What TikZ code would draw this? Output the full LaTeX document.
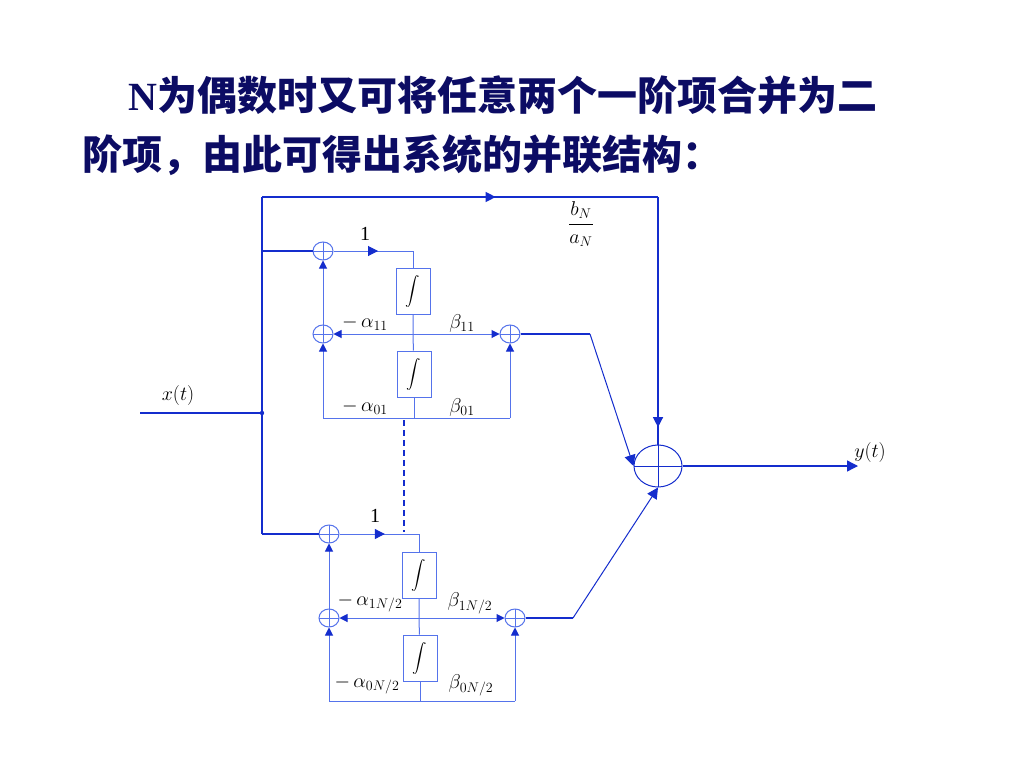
\RequirePackage{fix-cm}
\documentclass[tikz,border=0pt]{standalone}
\usepackage{amsmath}
\usepackage{fontspec}
\setmainfont{Liberation Serif}
\newfontfamily\cjk{Noto Sans CJK SC}
\usetikzlibrary{arrows.meta,shapes.geometric,decorations.markings}
\definecolor{mainblue}{RGB}{20,45,205}
\definecolor{loopblue}{RGB}{85,115,235}
\definecolor{titleblue}{RGB}{12,12,100}
\tikzset{
  mainline/.style={draw=mainblue, line width=1.3pt},
  loopline/.style={draw=loopblue, line width=1pt},
  sumnode/.style={draw=loopblue, line width=1pt, ellipse, minimum width=20pt, minimum height=18pt, inner sep=0pt,
    path picture={\draw[loopblue, line width=1pt] (path picture bounding box.north) -- (path picture bounding box.south)
      (path picture bounding box.west) -- (path picture bounding box.east);}},
  bigsum/.style={draw=mainblue, line width=1pt, ellipse, minimum width=48pt, minimum height=42pt, inner sep=0pt,
    path picture={\draw[mainblue, line width=1pt] (path picture bounding box.north) -- (path picture bounding box.south)
      (path picture bounding box.west) -- (path picture bounding box.east);}},
  intbox/.style={draw=loopblue, line width=1pt, minimum width=34pt, minimum height=46pt, inner sep=0pt, font=\fontsize{15}{17}\selectfont},
  lab/.style={font=\fontsize{20}{22}\selectfont, text=black, inner sep=0pt},
  titletext/.style={anchor=west, inner sep=0pt, text=titleblue, font=\fontsize{40}{44}\selectfont\bfseries},
  tip/.style={-{Triangle[length=8pt,width=8pt,color=mainblue]}},
  bigtip/.style={-{Triangle[length=11pt,width=11pt,color=mainblue]}},
  midtip/.style={postaction={decorate}, decoration={markings, mark=at position #1 with {\arrow{Triangle[length=10pt,width=10pt,color=mainblue]}}}},
}

\begin{document}
\begin{tikzpicture}[x=1pt,y=-1pt]
\useasboundingbox (0,0) rectangle (1024,768);
\fill[white] (0,0) rectangle (1024,768);

% title
\node[titletext] (t1) at (128,95) {N{\cjk 为偶数时又可将任意两个一阶项合并为二}};
\node[titletext] (t2) at (82,155) {\cjk 阶项，由此可得出系统的并联结构：};

% main path
\coordinate (in) at (140,413);
\coordinate (br) at (262,413);
\coordinate (tl) at (262,197);
\coordinate (tr) at (658,197);
\coordinate (ua) at (262,251);
\coordinate (la) at (262,534);
\coordinate (out) at (858,466);
\node[bigsum] (big) at (658,466) {};

% upper second order section
\node[sumnode] (u1) at (323,251) {};
\node[sumnode] (u2) at (323,334) {};
\node[sumnode] (u3) at (510,334) {};
\node[intbox] (ui1) at (413,291) {$\displaystyle\int$};
\node[intbox] (ui2) at (414,374) {$\displaystyle\int$};
\coordinate (ut) at (413,251);
\coordinate (um) at (413,334);
\coordinate (ub) at (414,418);
\coordinate (ubl) at (323,418);
\coordinate (ubr) at (510,418);
\coordinate (uo) at (590,334);

% lower second order section
\node[sumnode] (l1) at (329,534) {};
\node[sumnode] (l2) at (329,618) {};
\node[sumnode] (l3) at (515,618) {};
\node[intbox] (li1) at (419,575) {$\displaystyle\int$};
\node[intbox] (li2) at (420,658) {$\displaystyle\int$};
\coordinate (lt) at (419,534);
\coordinate (lm) at (419,618);
\coordinate (lb) at (420,701);
\coordinate (lbl) at (329,701);
\coordinate (lbr) at (515,701);
\coordinate (lo) at (573,618);

\coordinate (d1) at (404,420);
\coordinate (d2) at (404,532);

% labels
\node[lab] (x) at (178,395) {$x(t)$};
\node[lab] (y) at (870,452) {$y(t)$};
\node[lab] (k) at (581,224) {$\displaystyle\frac{b_N}{a_N}$};
\node[lab] (one1) at (365,234) {1};
\node[lab] (one2) at (375,516) {1};
\node[lab] (a11) at (365,323) {$-\,\alpha_{11}$};
\node[lab] (b11) at (462,323) {$\beta_{11}$};
\node[lab] (a01) at (365,407) {$-\,\alpha_{01}$};
\node[lab] (b01) at (462,407) {$\beta_{01}$};
\node[lab] (a1n) at (370,603) {$-\,\alpha_{1N/2}$};
\node[lab] (b1n) at (470,603) {$\beta_{1N/2}$};
\node[lab] (a0n) at (367,685) {$-\,\alpha_{0N/2}$};
\node[lab] (b0n) at (471,685) {$\beta_{0N/2}$};

% main connectors
\draw[mainline] (in) -- (br);
\fill[mainblue] (br) circle (2.2pt);
\draw[mainline] (la) -- (tl);
\draw[mainline, midtip=0.59] (tl) -- (tr);
\draw[mainline, midtip=0.93] (tr) -- (big.north);
\draw[mainline, bigtip] (big.east) -- (out);
\draw[mainline] (ua) -- (u1);
\draw[mainline] (la) -- (l1);
\draw[mainline, dashed, dash pattern=on 6pt off 4pt] (d1) -- (d2);

% upper loops
\draw[loopline, midtip=0.56] (u1) -- (ut);
\draw[loopline] (ut) -- (ui1);
\draw[loopline] (ui1) -- (um) -- (ui2);
\draw[loopline] (ui2) -- (ub);
\draw[loopline] (ubl) -- (ubr);
\draw[loopline, tip] (ubl) -- (u2);
\draw[loopline, tip] (u2) -- (u1);
\draw[loopline, tip] (ubr) -- (u3);
\draw[loopline, tip] (um) -- (u2);
\draw[loopline, tip] (um) -- (u3);
\draw[mainline] (u3) -- (uo);
\draw[mainblue, line width=1pt, bigtip] (uo) -- (big.west);

% lower loops
\draw[loopline, midtip=0.57] (l1) -- (lt);
\draw[loopline] (lt) -- (li1);
\draw[loopline] (li1) -- (lm) -- (li2);
\draw[loopline] (li2) -- (lb);
\draw[loopline] (lbl) -- (lbr);
\draw[loopline, tip] (lbl) -- (l2);
\draw[loopline, tip] (l2) -- (l1);
\draw[loopline, tip] (lbr) -- (l3);
\draw[loopline, tip] (lm) -- (l2);
\draw[loopline, tip] (lm) -- (l3);
\draw[mainline] (l3) -- (lo);
\draw[mainblue, line width=1pt, bigtip] (lo) -- (big.south);
\end{tikzpicture}
\end{document}
